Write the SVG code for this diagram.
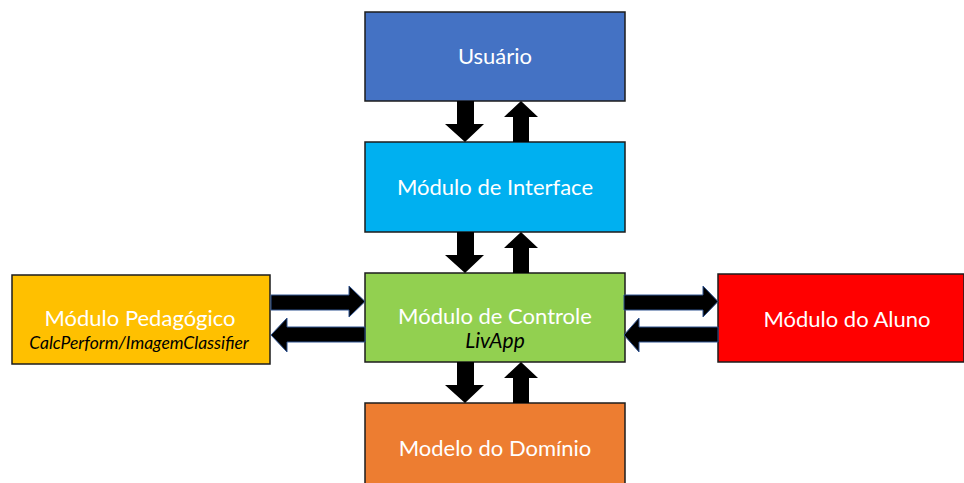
<svg xmlns="http://www.w3.org/2000/svg" width="964" height="483" viewBox="0 0 964 483">
<style>
.box{stroke:#1c1c1c;stroke-width:1.5}
.t{font-family:Lato,"Open Sans",sans-serif;font-size:22px;fill:#fff;text-anchor:middle}
.i{font-family:Lato,"Open Sans",sans-serif;font-style:italic;fill:#000;text-anchor:middle}
.arr{fill:#000;stroke:#2F528F;stroke-width:1}
.varr{fill:#000}
</style>
<rect width="964" height="483" fill="#fff"/>
<g id="usuario"><rect class="box" x="365" y="12" width="260" height="89" fill="#4472C4"/><text class="t" x="495" y="64">Usuário</text></g>
<g id="interface"><rect class="box" x="365" y="142" width="260" height="90" fill="#00B0F0"/><text class="t" x="495" y="195">Módulo de Interface</text></g>
<g id="controle"><rect class="box" x="365" y="273" width="260" height="89" fill="#92D050"/><text class="t" x="495" y="324">Módulo de Controle</text><text class="i" x="495" y="348" font-size="21">LivApp</text></g>
<g id="pedagogico"><rect class="box" x="12" y="275" width="258" height="89" fill="#FFC000"/><text class="t" x="140" y="326">Módulo Pedagógico</text><text class="i" x="139" y="349" font-size="17.5">CalcPerform/ImagemClassifier</text></g>
<g id="aluno"><rect class="box" x="718" y="274" width="246" height="88" fill="#FF0000"/><text class="t" x="847" y="327">Módulo do Aluno</text></g>
<g id="dominio"><rect class="box" x="365" y="403" width="260" height="86" fill="#ED7D31"/><text class="t" x="495" y="456">Modelo do Domínio</text></g>
<g id="connectors">
<polygon class="varr" points="457,101 474,101 474,124 484,124 465,142 445,124 457,124"/>
<polygon class="varr" points="513,142 529,142 529,117 538,117 521,101 504,117 513,117"/>
<polygon class="varr" points="457,232 474,232 474,255 484,255 465,273 445,255 457,255"/>
<polygon class="varr" points="513,273 529,273 529,248 538,248 521,232 504,248 513,248"/>
<polygon class="varr" points="457,362 474,362 474,385 484,385 465,403 445,385 457,385"/>
<polygon class="varr" points="513,403 529,403 529,378 538,378 521,362 504,378 513,378"/>
<polygon class="arr" points="271,295 349,295 349,286 365,301.5 349,317 349,310 271,310"/>
<polygon class="arr" points="365,327 287,327 287,318 271,335 287,352 287,342 365,342"/>
<polygon class="arr" points="624,295 703,295 703,286 718,301.5 703,317 703,310 624,310"/>
<polygon class="arr" points="718,327 639,327 639,318 624,335 639,352 639,342 718,342"/>
</g>
</svg>
